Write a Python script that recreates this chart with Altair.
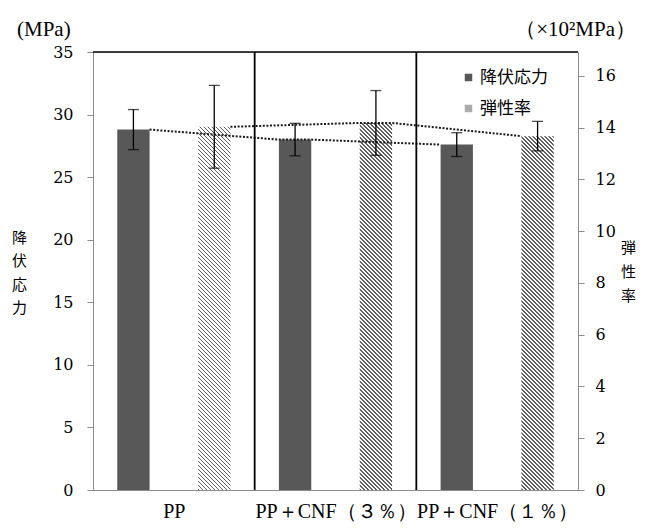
import json
import altair as alt
import pandas as pd

# ---------------- data ----------------
categories = ["PP", "PP＋CNF（３％）", "PP＋CNF（１％）"]
yield_mean = [28.8, 28.0, 27.6]      # 降伏応力 (MPa)
yield_sd = [1.6, 1.3, 0.95]
modulus_mean = [14.03, 14.18, 13.67]  # 弾性率 (x10^2 MPa)
modulus_sd = [1.6, 1.25, 0.57]
series_names = ["降伏応力", "弾性率"]
left_ticks = [0, 5, 10, 15, 20, 25, 30, 35]
right_ticks = [0, 2, 4, 6, 8, 10, 12, 14, 16]

# ---------------- layout / style ----------------
W, H = 485, 438
LEFT_MAX = 35
RIGHT_MAX = 16.92
OFF = 0.25       # bar offset from group centre (category units)
HALF = 0.1       # bar half width (category units)
SERIF = "Liberation Serif"
NUM = "DejaVu Serif"
CJK = "Noto Sans CJK JP"
DARK = "#585858"
AXC = "#8c8c8c"

rows_a, rows_b = [], []
for i, c in enumerate(categories):
    rows_a.append(dict(cat=c, series=series_names[0], xc=i + 0.5 - OFF,
                       xl=i + 0.5 - OFF - HALF, xr=i + 0.5 - OFF + HALF,
                       v=yield_mean[i], lo=yield_mean[i] - yield_sd[i],
                       hi=yield_mean[i] + yield_sd[i]))
    rows_b.append(dict(cat=c, series=series_names[1], xc=i + 0.5 + OFF,
                       xl=i + 0.5 + OFF - HALF, xr=i + 0.5 + OFF + HALF,
                       v=modulus_mean[i], lo=modulus_mean[i] - modulus_sd[i],
                       hi=modulus_mean[i] + modulus_sd[i]))
dfa = pd.DataFrame(rows_a)
dfb = pd.DataFrame(rows_b)

# dotted connecting lines: right edge of one bar top -> left edge of next
def line_rows(rows):
    out = []
    for i, r in enumerate(rows):
        if i > 0:
            out.append(dict(x=r["xl"], v=r["v"], o=len(out)))
        if i < len(rows) - 1:
            out.append(dict(x=r["xr"], v=r["v"], o=len(out)))
    return pd.DataFrame(out)

la = line_rows(rows_a)
lb = line_rows(rows_b)

label_expr = json.dumps(categories, ensure_ascii=False) + "[floor(datum.value)]"
x_axis = alt.Axis(values=[0.5, 1.5, 2.5], labelExpr=label_expr, ticks=False,
                  grid=False, title=None, labelFont=SERIF, labelFontSize=20,
                  labelColor="black", labelPadding=11, domainColor=AXC,
                  labelOverlap=False, labelBound=False, labelFlush=False)
x_scale = alt.Scale(domain=[0, 3], nice=False, zero=False)

def X(field):
    return alt.X(field, type="quantitative", scale=x_scale, axis=x_axis)

ls = alt.Scale(domain=[0, LEFT_MAX], nice=False, zero=True)
rs = alt.Scale(domain=[0, RIGHT_MAX], nice=False, zero=True)

left_axis = alt.Axis(values=left_ticks, grid=False, title=["降", "伏", "応", "力"],
                     titleAngle=0, titleFont=CJK, titleFontSize=15,
                     titleFontWeight="normal", titleLineHeight=23.5,
                     titleX=-74, titleY=178, titleAlign="center",
                     titleBaseline="top", labelFont=NUM, labelFontSize=16,
                     labelColor="black", labelPadding=14, tickSize=6,
                     tickColor=AXC, domainColor=AXC)
right_axis = alt.Axis(values=right_ticks, orient="right", grid=False,
                      title=["弾", "性", "率"], titleAngle=0, titleFont=CJK,
                      titleFontSize=15, titleFontWeight="normal",
                      titleLineHeight=24, titleX=50, titleY=188,
                      titleAlign="center", titleBaseline="top",
                      labelFont=NUM, labelFontSize=16, labelColor="black",
                      labelPadding=11, tickSize=6, tickColor=AXC,
                      domainColor=AXC)

# ----- dark bars (yield stress) + legend -----
dark = alt.Chart(dfa).mark_rect(stroke=None).encode(
    x=X("xl"), x2="xr",
    y=alt.Y("v:Q", scale=ls, axis=left_axis), y2=alt.datum(0),
    color=alt.Color("series:N",
                    scale=alt.Scale(domain=series_names, range=[DARK, "#ababab"]),
                    legend=alt.Legend(orient="none", legendX=367, legendY=17,
                                      title=None, symbolType="square",
                                      symbolSize=56, symbolStrokeWidth=0,
                                      labelFont=CJK, labelFontSize=17,
                                      labelColor="black", rowPadding=13,
                                      labelOffset=3)),
)
L1 = alt.layer(dark)

# ----- hatched bars (modulus) : striped gradient per bar -----
bar_px_w = 2 * HALF * W / 3

def hatch(val, period=4.0, duty=0.42, ink="#5e5e5e"):
    hh = val * H / RIGHT_MAX
    w = bar_px_w
    s = w * (hh + w) / (w * w + hh * hh)
    L = hh + w
    stops = []
    k = 0
    while k * period < L:
        t0 = k * period / L
        t1 = min((k * period + duty * period) / L, 1)
        t2 = min(((k + 1) * period) / L, 1)
        stops += [alt.GradientStop(offset=t0, color=ink),
                  alt.GradientStop(offset=t1, color=ink),
                  alt.GradientStop(offset=t1, color="white"),
                  alt.GradientStop(offset=t2, color="white")]
        k += 1
    return alt.LinearGradient(gradient="linear", stops=stops, x1=0, y1=1,
                              x2=s, y2=1 - s * hh / w)

hatch_layers = []
for i, c in enumerate(categories):
    hatch_layers.append(
        alt.Chart(dfb[dfb["cat"] == c]).mark_rect(fill=hatch(modulus_mean[i]),
                                                   stroke=None).encode(
            x=X("xl"), x2="xr",
            y=alt.Y("v:Q", scale=rs, axis=right_axis), y2=alt.datum(0))
    )
L2 = alt.layer(*hatch_layers)

# ----- dotted lines, error bars, frame -----
dot = dict(color="#1a1a1a", strokeWidth=2, strokeDash=[2, 1.6])
lineA = alt.Chart(la).mark_line(**dot).encode(
    x=X("x"), y=alt.Y("v:Q", scale=ls, axis=None), order="o:Q")
lineB = alt.Chart(lb).mark_line(**dot).encode(
    x=X("x"), y=alt.Y("v:Q", scale=rs, axis=None), order="o:Q")

def errbars(df, sc):
    base = alt.Chart(df)
    stem = base.mark_rule(color="black", strokeWidth=1.3).encode(
        x=X("xc"), y=alt.Y("lo:Q", scale=sc, axis=None), y2="hi:Q")
    cap_hi = base.mark_tick(orient="horizontal", color="black", size=11,
                            thickness=1.3).encode(
        x=X("xc"), y=alt.Y("hi:Q", scale=sc, axis=None))
    cap_lo = base.mark_tick(orient="horizontal", color="black", size=11,
                            thickness=1.3).encode(
        x=X("xc"), y=alt.Y("lo:Q", scale=sc, axis=None))
    return [stem, cap_hi, cap_lo]

sep_df = pd.DataFrame({"x": [1, 2]})
seps = alt.Chart(sep_df).mark_rule(color="black", strokeWidth=1.8).encode(
    x=X("x"), y=alt.datum(0, scale=ls, axis=None), y2=alt.datum(LEFT_MAX))
top = alt.Chart(pd.DataFrame({"a": [0], "b": [3]})).mark_rule(
    color="black", strokeWidth=1.3).encode(
    x=X("a"), x2="b", y=alt.datum(LEFT_MAX, scale=ls, axis=None))

L3 = alt.layer(lineA, seps, top, *errbars(dfa, ls))
L4 = alt.layer(lineB, *errbars(dfb, rs))

# unit captions
cap_l = alt.Chart(pd.DataFrame({"t": ["(MPa)"]})).mark_text(
    font=SERIF, fontSize=21, align="left", baseline="middle").encode(
    text="t:N", x=alt.value(-76), y=alt.value(-22))
cap_r = alt.Chart(pd.DataFrame({"t": ["（×10²MPa）"]})).mark_text(
    font=SERIF, fontSize=21, align="right", baseline="middle").encode(
    text="t:N", x=alt.value(543), y=alt.value(-22))

chart = alt.layer(L1, L2, L3, L4, cap_l, cap_r).resolve_scale(
    y="independent").properties(
    width=W, height=H, autosize=alt.AutoSizeParams(type="none"),
    padding={"left": 85, "top": 44, "right": 59, "bottom": 34},
).configure_view(stroke=None).configure(background="white")

chart.save("out.html", embed_options={"renderer": "svg", "actions": False})
